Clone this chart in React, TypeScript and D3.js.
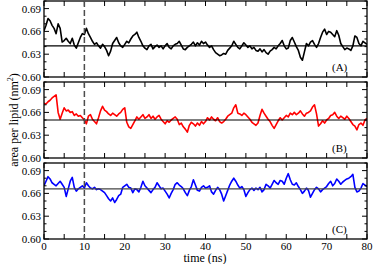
import React, { useEffect, useRef } from 'react';
import * as d3 from 'd3';

// traces are sampled every 0.5 ns from 0 to 80 ns
const STEP = 0.5;

const areaA = [
  0.661, 0.668, 0.677, 0.674, 0.668, 0.664, 0.657, 0.670, 0.664, 0.646,
  0.648, 0.651, 0.647, 0.644, 0.651, 0.642, 0.638, 0.645, 0.652, 0.657,
  0.656, 0.664, 0.657, 0.652, 0.647, 0.643, 0.645, 0.641, 0.638, 0.643,
  0.640, 0.635, 0.628, 0.634, 0.644, 0.648, 0.652, 0.645, 0.641, 0.639,
  0.643, 0.647, 0.645, 0.650, 0.654, 0.656, 0.659, 0.652, 0.647, 0.641,
  0.638, 0.636, 0.641, 0.643, 0.637, 0.640, 0.642, 0.639, 0.641, 0.637,
  0.641, 0.644, 0.639, 0.637, 0.641, 0.643, 0.644, 0.647, 0.642, 0.637,
  0.636, 0.639, 0.641, 0.643, 0.646, 0.641, 0.645, 0.642, 0.647, 0.644,
  0.646, 0.642, 0.639, 0.641, 0.636, 0.632, 0.630, 0.628, 0.629, 0.631,
  0.630, 0.635, 0.638, 0.641, 0.647, 0.643, 0.639, 0.637, 0.641, 0.645,
  0.642, 0.639, 0.641, 0.637, 0.639, 0.635, 0.634, 0.637, 0.633, 0.636,
  0.632, 0.630, 0.634, 0.636, 0.639, 0.637, 0.641, 0.644, 0.648, 0.641,
  0.637, 0.638, 0.648, 0.652, 0.646, 0.640, 0.635, 0.626, 0.622, 0.633,
  0.644, 0.641, 0.646, 0.648, 0.643, 0.639, 0.644, 0.652, 0.659, 0.663,
  0.656, 0.660, 0.659, 0.656, 0.653, 0.661, 0.655, 0.644, 0.640, 0.636,
  0.638, 0.637, 0.635, 0.641, 0.654, 0.652, 0.644, 0.641, 0.647, 0.645,
  0.643,
];

const areaB = [
  0.672, 0.671, 0.674, 0.676, 0.679, 0.681, 0.683, 0.660, 0.651, 0.659,
  0.666, 0.662, 0.663, 0.660, 0.661, 0.656, 0.658, 0.655, 0.656, 0.653,
  0.650, 0.645, 0.655, 0.657, 0.651, 0.648, 0.645, 0.653, 0.662, 0.668,
  0.663, 0.661, 0.658, 0.656, 0.659, 0.657, 0.655, 0.658, 0.660, 0.664,
  0.666, 0.647, 0.641, 0.639, 0.644, 0.649, 0.654, 0.651, 0.654, 0.657,
  0.652, 0.654, 0.657, 0.652, 0.655, 0.651, 0.654, 0.656, 0.651, 0.648,
  0.645, 0.649, 0.647, 0.650, 0.652, 0.654, 0.651, 0.644, 0.646, 0.641,
  0.638, 0.634, 0.643, 0.647, 0.645, 0.642, 0.646, 0.643, 0.648, 0.645,
  0.648, 0.653, 0.650, 0.654, 0.651, 0.649, 0.653, 0.648, 0.646, 0.648,
  0.651, 0.655, 0.657, 0.659, 0.666, 0.670, 0.659, 0.658, 0.656, 0.659,
  0.657, 0.654, 0.651, 0.647, 0.645, 0.643, 0.646, 0.656, 0.664, 0.659,
  0.655, 0.651, 0.648, 0.643, 0.639, 0.644, 0.649, 0.653, 0.650, 0.653,
  0.656, 0.654, 0.659, 0.657, 0.660, 0.657, 0.659, 0.662, 0.658, 0.655,
  0.659, 0.660, 0.662, 0.667, 0.670, 0.658, 0.642, 0.645, 0.649, 0.646,
  0.650, 0.652, 0.656, 0.657, 0.660, 0.655, 0.652, 0.655, 0.653, 0.651,
  0.655, 0.652, 0.648, 0.644, 0.642, 0.637, 0.644, 0.646, 0.643, 0.650,
  0.652,
];

const areaC = [
  0.670, 0.676, 0.682, 0.679, 0.674, 0.672, 0.670, 0.673, 0.676, 0.672,
  0.668, 0.656, 0.666, 0.676, 0.681, 0.668, 0.663, 0.666, 0.668, 0.670,
  0.667, 0.674, 0.670, 0.667, 0.666, 0.668, 0.665, 0.666, 0.665, 0.663,
  0.661, 0.657, 0.653, 0.650, 0.654, 0.648, 0.652, 0.657, 0.659, 0.668,
  0.670, 0.672, 0.668, 0.667, 0.661, 0.666, 0.665, 0.662, 0.668, 0.676,
  0.670, 0.667, 0.664, 0.661, 0.665, 0.668, 0.674, 0.670, 0.666, 0.667,
  0.663, 0.659, 0.654, 0.660, 0.665, 0.672, 0.674, 0.671, 0.669, 0.666,
  0.661, 0.657, 0.664, 0.669, 0.678, 0.671, 0.664, 0.663, 0.668, 0.670,
  0.667, 0.668, 0.670, 0.662, 0.659, 0.664, 0.668, 0.665, 0.659, 0.650,
  0.657, 0.664, 0.671, 0.676, 0.680, 0.676, 0.671, 0.667, 0.669, 0.665,
  0.656, 0.661, 0.665, 0.667, 0.664, 0.667, 0.665, 0.668, 0.662, 0.665,
  0.672, 0.670, 0.667, 0.672, 0.677, 0.674, 0.672, 0.677, 0.676, 0.672,
  0.680, 0.686, 0.678, 0.672, 0.671, 0.674, 0.669, 0.665, 0.660, 0.663,
  0.667, 0.664, 0.655, 0.660, 0.665, 0.668, 0.666, 0.662, 0.665, 0.667,
  0.669, 0.673, 0.676, 0.670, 0.673, 0.679, 0.676, 0.672, 0.675, 0.677,
  0.679, 0.680, 0.682, 0.685, 0.668, 0.662, 0.663, 0.667, 0.673, 0.671,
  0.669,
];

// averages drawn as horizontal lines
const means = [0.641, 0.650, 0.666];
const panelLabels = ['(A)', '(B)', '(C)'];
const lineColors = ['#000000', '#ff0000', '#0000ff'];
const meanColors = ['#000000', '#000000', '#444444'];

const yTickLabels = [0.6, 0.63, 0.66, 0.69];
const xTickLabels = [0, 10, 20, 30, 40, 50, 60, 70, 80];
const equilTime = 10; // dashed marker

const FONT = "'Liberation Serif', 'Times New Roman', serif";

export default function App() {
  const ref = useRef<SVGSVGElement>(null);

  useEffect(() => {
    const svg = d3.select(ref.current);
    svg.selectAll('*').remove();

    const left = 44, right = 367;
    const panelH = 76, gap = 5, top0 = 1;
    const series = [areaA, areaB, areaC];

    const x = d3.scaleLinear().domain([0, 80]).range([left, right]);
    const xMinor = d3.range(0, 81, 5);
    const yMinor = d3.range(60, 71, 1).map(v => v / 100);

    series.forEach((vals, i) => {
      const top = top0 + i * (panelH + gap);
      const bottom = top + panelH;
      const y = d3.scaleLinear().domain([0.6, 0.7]).range([bottom, top]);
      const g = svg.append('g');

      const clipId = 'clip' + i;
      g.append('clipPath').attr('id', clipId)
        .append('rect')
        .attr('x', left).attr('y', top)
        .attr('width', right - left).attr('height', panelH);

      const line = d3.line<number>()
        .x((d, k) => x(k * STEP))
        .y(d => y(d));

      g.append('path')
        .datum(vals)
        .attr('clip-path', `url(#${clipId})`)
        .attr('d', line)
        .attr('fill', 'none')
        .attr('stroke', lineColors[i])
        .attr('stroke-width', 1.6)
        .attr('stroke-linejoin', 'round');

      g.append('line')
        .attr('x1', left).attr('x2', right)
        .attr('y1', y(means[i])).attr('y2', y(means[i]))
        .attr('stroke', meanColors[i])
        .attr('stroke-width', 1.1);

      // inward ticks on all four sides
      xMinor.forEach(t => {
        g.append('line')
          .attr('x1', x(t)).attr('x2', x(t))
          .attr('y1', bottom).attr('y2', bottom - 5)
          .attr('stroke', '#000');
        g.append('line')
          .attr('x1', x(t)).attr('x2', x(t))
          .attr('y1', top).attr('y2', top + 5)
          .attr('stroke', '#000');
      });
      yMinor.forEach(v => {
        const major = yTickLabels.some(m => Math.abs(m - v) < 1e-6);
        const len = major ? 5 : 2.5;
        g.append('line')
          .attr('x1', left).attr('x2', left + len)
          .attr('y1', y(v)).attr('y2', y(v))
          .attr('stroke', '#000');
        g.append('line')
          .attr('x1', right).attr('x2', right - len)
          .attr('y1', y(v)).attr('y2', y(v))
          .attr('stroke', '#000');
      });

      g.append('rect')
        .attr('x', left).attr('y', top)
        .attr('width', right - left).attr('height', panelH)
        .attr('fill', 'none')
        .attr('stroke', '#000')
        .attr('stroke-width', 1.3);

      g.selectAll('text.ytick')
        .data(yTickLabels)
        .join('text')
        .attr('class', 'ytick')
        .attr('x', left - 3)
        .attr('y', d => y(d) + 4)
        .attr('text-anchor', 'end')
        .attr('font-family', FONT)
        .attr('font-size', 11)
        .text(d => d.toFixed(2));

      g.append('text')
        .attr('x', 332)
        .attr('y', bottom - 6)
        .attr('font-family', FONT)
        .attr('font-size', 11)
        .text(panelLabels[i]);
    });

    const yTop = top0;
    const yBottom = top0 + 3 * panelH + 2 * gap;

    svg.append('line')
      .attr('x1', x(equilTime)).attr('x2', x(equilTime))
      .attr('y1', yTop).attr('y2', yBottom)
      .attr('stroke', '#4d4d4d')
      .attr('stroke-width', 1.5)
      .attr('stroke-dasharray', '6,3');

    svg.selectAll('text.xtick')
      .data(xTickLabels)
      .join('text')
      .attr('class', 'xtick')
      .attr('x', d => x(d))
      .attr('y', 250)
      .attr('text-anchor', 'middle')
      .attr('font-family', FONT)
      .attr('font-size', 11)
      .text(d => d);

    svg.append('text')
      .attr('x', 205)
      .attr('y', 262)
      .attr('text-anchor', 'middle')
      .attr('font-family', FONT)
      .attr('font-size', 12)
      .text('time (ns)');

    const yl = svg.append('text')
      .attr('transform', `translate(18, ${(yTop + yBottom) / 2}) rotate(-90)`)
      .attr('text-anchor', 'middle')
      .attr('font-family', FONT)
      .attr('font-size', 12);
    yl.append('tspan').text('area per lipid (nm');
    yl.append('tspan').attr('dy', -5).attr('font-size', 8).text('2');
    yl.append('tspan').attr('dy', 5).text(')');
  }, []);

  return (
    <svg
      ref={ref}
      width={374}
      height={264}
      style={{ position: 'absolute', left: 0, top: 0, background: '#fff' }}
    />
  );
}
